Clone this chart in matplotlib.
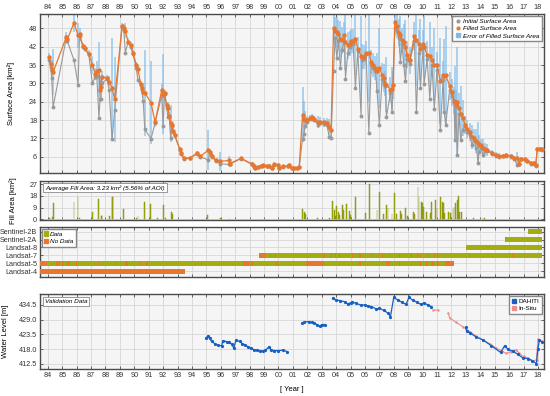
import numpy as np
import matplotlib
matplotlib.use('Agg')
from matplotlib import pyplot as plt
from matplotlib.lines import Line2D
from matplotlib.patches import Patch

plt.rcParams['font.family'] = ['Liberation Sans', 'DejaVu Sans']

# surface area time series (decimal years, km^2)
area_year = [1984.07, 1984.20, 1984.27, 1984.37, 1985.29, 1985.35, 1985.82, 1986.10,
             1986.20, 1986.45, 1986.55, 1986.84, 1987.09, 1987.30, 1987.40, 1987.55,
             1987.62, 1987.67, 1987.75, 1988.10, 1988.25, 1988.46, 1988.64, 1989.15,
             1989.27, 1989.38, 1989.56, 1989.75, 1989.91, 1990.14, 1990.25, 1990.44,
             1990.51, 1990.62, 1990.73, 1991.16, 1991.44, 1991.90, 1992.00, 1992.10,
             1992.25, 1992.33, 1992.43, 1992.52, 1992.59, 1992.70, 1992.80, 1993.17,
             1993.24, 1993.47, 1993.86, 1994.37, 1994.55, 1995.13, 1995.25, 1995.40,
             1995.66, 1995.95, 1996.58, 1996.63, 1997.40, 1998.16, 1998.30, 1998.39,
             1998.60, 1998.80, 1998.96, 1999.20, 1999.35, 1999.54, 1999.66, 1999.96,
             2000.05, 2000.35, 2000.63, 2000.75, 2000.93, 2001.10, 2001.26, 2001.44,
             2001.67, 2001.77, 2001.85, 2001.95, 2002.20, 2002.36, 2002.50, 2002.73,
             2002.90, 2003.13, 2003.36, 2003.52, 2003.65, 2003.82, 2003.93, 2004.05,
             2004.16, 2004.30, 2004.40, 2004.57, 2004.65, 2004.81, 2004.95, 2005.04,
             2005.18, 2005.34, 2005.50, 2005.73, 2005.80, 2005.92, 2006.08, 2006.27,
             2006.43, 2006.58, 2006.73, 2006.84, 2007.00, 2007.19, 2007.30, 2007.42,
             2007.49, 2007.77, 2007.88, 2007.95, 2008.07, 2008.23, 2008.35, 2008.46,
             2008.57, 2008.69, 2008.81, 2008.92, 2009.10, 2009.43, 2009.57, 2009.73,
             2009.85, 2010.03, 2010.10, 2010.31, 2010.50, 2010.65, 2010.81, 2011.00,
             2011.23, 2011.42, 2011.50, 2011.60, 2011.88, 2012.02, 2012.18, 2012.25,
             2012.30, 2012.41, 2012.52, 2012.64, 2012.78, 2012.94, 2013.10, 2013.27,
             2013.41, 2013.57, 2013.73, 2013.85, 2013.92, 2014.04, 2014.19, 2014.33,
             2014.49, 2014.84, 2015.07, 2015.30, 2015.58, 2015.81, 2016.11, 2016.34,
             2016.57, 2016.70, 2016.80, 2017.10, 2017.27, 2017.50, 2017.73, 2017.84,
             2017.96, 2018.14, 2018.30]
area_filled = [38.6, 36.2, 34.5, 33.7, 45.2, 44.4, 49.8, 45.7,
               46.0, 42.2, 41.5, 39.7, 36.1, 33.0, 34.2, 34.5,
               28.0, 28.8, 32.1, 31.8, 30.4, 28.5, 24.8, 48.7,
               48.0, 47.3, 43.7, 42.4, 40.0, 36.1, 34.6, 29.9,
               28.5, 27.2, 26.9, 23.7, 17.3, 27.7, 26.5, 26.8,
               22.8, 22.0, 19.5, 17.0, 16.3, 14.4, 13.2, 8.4,
               7.2, 5.6, 5.6, 7.3, 6.1, 8.1, 7.6, 6.4,
               4.8, 4.5, 4.8, 3.8, 5.5, 3.7, 3.0, 2.3,
               2.6, 3.0, 3.2, 3.0, 3.0, 2.3, 3.5, 3.4,
               2.3, 2.9, 3.0, 3.4, 2.3, 2.3, 2.3, 2.6,
               19.7, 18.2, 18.0, 17.9, 18.7, 19.0, 18.5, 17.3,
               17.5, 17.3, 17.1, 15.7, 14.6, 48.1, 47.3, 46.8,
               46.2, 44.5, 44.1, 45.7, 43.5, 42.4, 43.0, 43.8,
               43.8, 44.6, 41.3, 39.0, 38.8, 38.6, 40.0, 40.0,
               37.0, 36.1, 35.0, 33.9, 35.0, 32.8, 31.7, 29.9,
               29.5, 28.0, 28.3, 29.5, 50.1, 48.7, 46.6, 45.9,
               44.1, 43.4, 41.9, 39.4, 37.5, 45.5, 44.1, 43.0,
               41.1, 43.0, 42.0, 39.4, 39.0, 37.5, 36.1, 35.9,
               30.7, 32.7, 32.5, 32.8, 29.1, 27.1, 24.4, 23.8,
               23.3, 23.8, 22.0, 20.1, 18.7, 16.5, 15.0, 14.1,
               12.5, 12.2, 11.1, 10.5, 10.0, 9.8, 8.9, 8.5,
               8.2, 7.3, 6.6, 6.2, 6.4, 6.6, 6.2, 5.6,
               5.6, 3.7, 5.4, 5.3, 4.7, 4.0, 4.0, 3.2,
               8.6, 8.6, 8.4]
area_initial = [37.8, 35.5, 31.8, 22.3, 45.0, 44.0, 37.5, 29.6,
                45.5, 41.8, 41.2, 39.5, 30.2, 32.0, 32.5, 18.7,
                24.8, 25.0, 30.0, 31.5, 28.0, 11.7, 21.2, 48.5,
                47.5, 40.0, 43.5, 42.0, 39.5, 35.0, 31.0, 29.5,
                28.0, 24.1, 15.0, 11.9, 17.0, 26.0, 16.0, 26.5,
                22.0, 19.0, 19.0, 12.1, 16.0, 14.2, 13.0, 8.2,
                7.0, 5.4, 5.5, 7.0, 6.0, 5.0, 7.0, 6.0,
                4.6, 3.7, 3.5, 3.6, 5.4, 3.5, 2.8, 2.2,
                2.5, 2.9, 3.1, 2.9, 2.9, 2.2, 3.4, 3.3,
                2.2, 2.8, 2.9, 3.3, 2.2, 2.2, 2.2, 2.5,
                11.9, 13.5, 16.0, 17.5, 18.2, 18.5, 18.0, 16.5,
                17.0, 16.8, 16.5, 12.5, 12.0, 34.0, 45.0, 38.2,
                44.0, 35.0, 41.0, 44.0, 31.6, 40.0, 42.0, 43.0,
                43.0, 28.5, 40.5, 19.5, 37.5, 38.0, 39.5, 13.8,
                36.0, 35.0, 34.0, 27.4, 16.3, 31.5, 30.5, 29.0,
                19.0, 27.0, 20.6, 29.5, 48.0, 47.0, 45.0, 37.0,
                43.0, 36.0, 30.7, 38.0, 36.5, 44.0, 20.7, 40.0,
                28.5, 42.0, 29.7, 38.0, 25.0, 36.0, 21.7, 34.5,
                14.6, 31.0, 20.6, 16.5, 28.0, 26.0, 24.0, 11.4,
                22.5, 6.5, 20.0, 11.5, 14.9, 16.0, 14.0, 13.0,
                10.0, 11.5, 9.0, 4.0, 7.6, 9.0, 6.5, 8.0,
                7.8, 7.0, 6.3, 6.0, 6.2, 6.4, 6.0, 5.4,
                3.3, 3.5, 5.2, 5.1, 4.5, 3.8, 3.8, 3.0,
                8.4, 8.4, 8.2]
area_err = [1.5, 1.5, 3.0, 7.5, 1.5, 1.5, 3.0, 4.0,
            2.0, 1.0, 1.0, 1.2, 3.0, 2.0, 3.0, 9.0,
            4.0, 4.0, 2.0, 1.0, 2.0, 16.5, 14.0, 1.0,
            1.5, 2.5, 1.0, 1.0, 1.0, 1.0, 1.5, 1.0,
            1.0, 2.0, 14.0, 13.5, 1.5, 2.0, 13.0, 1.0,
            1.0, 2.0, 1.0, 6.0, 1.0, 1.0, 1.0, 0.5,
            0.5, 0.4, 0.4, 0.5, 0.5, 6.5, 1.0, 1.0,
            0.5, 3.0, 1.5, 1.0, 0.3, 0.5, 0.5, 0.3,
            0.3, 0.3, 0.3, 0.3, 0.3, 0.3, 0.3, 0.3,
            0.3, 0.3, 0.3, 0.3, 0.3, 0.3, 0.3, 0.3,
            9.0, 6.0, 3.0, 1.5, 1.0, 1.0, 1.0, 2.0,
            1.5, 1.5, 1.5, 2.5, 2.0, 4.5, 4.5, 5.0,
            4.5, 6.0, 4.5, 4.5, 9.0, 4.5, 4.0, 4.0,
            4.0, 12.0, 4.0, 13.0, 4.0, 4.0, 4.0, 16.0,
            4.0, 4.0, 4.0, 6.0, 13.0, 4.0, 4.5, 4.0,
            9.0, 4.0, 7.0, 4.5, 4.5, 4.0, 4.5, 6.0,
            4.0, 6.0, 9.0, 4.5, 4.5, 4.5, 15.0, 4.5,
            10.0, 4.5, 10.0, 4.5, 11.0, 4.5, 12.0, 4.5,
            14.0, 4.5, 12.0, 16.0, 4.5, 4.5, 4.5, 12.0,
            4.5, 18.0, 5.0, 9.0, 6.0, 3.0, 3.0, 3.0,
            4.0, 3.0, 4.0, 7.0, 3.0, 2.0, 3.0, 2.0,
            2.0, 1.0, 1.0, 1.0, 0.6, 0.6, 0.6, 0.6,
            2.0, 1.0, 0.6, 0.6, 0.6, 0.6, 0.6, 0.5,
            0.6, 0.6, 0.6]

# filled area per scene
fill_year = [1984.10, 1984.35, 1984.42, 1985.82, 1986.10, 1986.20, 1987.12, 1987.53,
             1987.70, 1987.76, 1988.27, 1988.46, 1988.50, 1989.27, 1990.14, 1990.26,
             1990.72, 1991.14, 1991.60, 1992.04, 1992.14, 1992.57, 1992.64, 1995.09,
             1995.96, 1996.60, 2001.64, 2001.78, 2001.88, 2002.70, 2003.53, 2003.75,
             2003.87, 2003.95, 2004.03, 2004.15, 2004.26, 2004.42, 2004.53, 2004.72,
             2004.90, 2004.98, 2005.37, 2006.06, 2006.29, 2006.84, 2007.03, 2007.26,
             2007.49, 2007.60, 2007.88, 2008.07, 2008.20, 2008.44, 2008.55, 2008.83,
             2008.95, 2009.35, 2009.43, 2009.68, 2009.75, 2009.90, 2009.97, 2010.07,
             2010.25, 2010.52, 2010.62, 2010.92, 2011.00, 2011.23, 2011.35, 2011.42,
             2011.50, 2011.82, 2011.92, 2012.11, 2012.18, 2012.27, 2012.41, 2012.50,
             2012.57, 2012.70, 2013.50, 2014.19, 2014.30]
fill_area = [0.8, 2.2, 12.2, 13.0, 16.8, 1.0, 5.8, 15.5,
             3.0, 3.5, 2.6, 17.3, 17.3, 7.6, 1.5, 2.5,
             13.0, 11.7, 1.0, 11.4, 1.5, 5.6, 4.0, 3.3,
             1.0, 0.7, 7.6, 5.8, 4.0, 1.2, 1.5, 14.2,
             7.0, 2.5, 10.2, 5.8, 3.3, 11.4, 7.0, 11.9,
             6.4, 3.5, 16.8, 4.6, 26.7, 7.0, 21.0, 4.0,
             10.9, 9.1, 4.0, 20.3, 4.3, 6.1, 4.5, 8.6,
             2.5, 5.5, 4.5, 24.4, 17.0, 13.0, 12.3, 9.8,
             5.6, 4.8, 13.5, 14.7, 9.0, 16.8, 13.0, 12.3,
             4.6, 5.8, 4.8, 7.6, 9.8, 12.7, 15.2, 18.0,
             5.6, 5.6, 1.0, 1.5, 1.2]

# sensor availability
sensor_names = ['Landsat-4', 'Landsat-5', 'Landsat-7', 'Landsat-8', 'Sentinel-2A', 'Sentinel-2B']
sensor_start = [1983.45, 1983.45, 1998.62, 2013.01, 2015.71, 2017.29]
sensor_end = [1993.54, 2012.16, 2018.26, 2018.26, 2018.26, 2018.26]
l4_nodata = [(1983.45, 1993.54)]
l5_nodata = [(1983.45, 1983.83), (1983.90, 1983.96), (1984.33, 1984.38), (1984.60, 1984.83),
             (1985.00, 1985.13), (1985.36, 1985.52), (1985.94, 1986.05), (1987.50, 1987.56),
             (1988.66, 1988.72), (1989.38, 1989.56), (1990.38, 1990.49), (1990.83, 1990.95),
             (1994.66, 1994.72), (1997.53, 1998.00), (1998.11, 1998.23), (1999.84, 2000.00),
             (2001.92, 2003.15), (2005.62, 2005.73), (2007.47, 2007.77), (2008.36, 2008.42),
             (2009.78, 2009.89), (2010.24, 2010.36), (2010.58, 2010.82), (2011.00, 2011.17),
             (2011.55, 2012.16)]
l7_nodata = [(1998.62, 1999.15), (1999.35, 1999.41), (1999.74, 1999.80), (2003.08, 2003.24),
             (2003.62, 2003.68), (2003.93, 2003.99), (2004.21, 2004.27), (2005.13, 2005.19),
             (2005.62, 2005.73), (2006.40, 2006.46), (2007.16, 2007.22), (2007.67, 2007.73),
             (2008.36, 2008.42), (2009.17, 2009.23), (2009.63, 2009.69), (2009.82, 2009.88),
             (2010.33, 2010.39), (2010.79, 2010.85), (2011.02, 2011.08), (2011.94, 2012.00),
             (2013.21, 2013.27), (2016.22, 2016.28), (2017.14, 2017.20)]
l8_nodata = []
s2a_nodata = [(2015.71, 2015.80)]
s2b_nodata = []

# water level validation
dahiti_year = [1994.97, 1995.10, 1995.22, 1995.36, 1995.60, 1995.83, 1996.06, 1996.15,
               1996.40, 1996.60, 1996.75, 1996.90, 1997.05, 1997.30, 1997.50, 1997.70,
               1997.90, 1998.10, 1998.30, 1998.50, 1998.70, 1998.90, 1999.10, 1999.36,
               1999.50, 1999.70, 2000.00, 2000.30, 2000.60, np.nan,
               2001.64, 2001.80, 2002.13, 2002.30, 2002.50, 2002.70, 2002.85, 2003.00,
               2003.20, np.nan,
               2003.75, 2004.00, 2004.30, 2004.60, 2004.80, 2005.00, 2005.10, 2005.40,
               2005.70, 2006.00, 2006.20, 2006.45, 2006.80, 2007.00, 2007.30, 2007.60,
               2007.77, 2008.00, 2008.30, 2008.60, 2008.85, 2009.05, 2009.30, 2009.60,
               2009.90, 2010.10, 2010.40, 2010.61, np.nan,
               2012.99, 2013.05, 2013.30, 2013.70, 2014.20, 2014.77, 2015.41, 2015.69,
               2015.93, 2016.25, 2016.60, 2016.94, 2017.28, 2017.62, 2017.89, 2018.00,
               2018.10, 2018.25]
dahiti_level = [422.1, 423.0, 422.1, 420.9, 420.0, 419.4, 419.3, 421.2,
                420.8, 420.5, 419.9, 418.5, 421.3, 421.0, 420.0, 419.6,
                418.8, 418.3, 417.8, 417.6, 417.5, 417.2, 417.6, 419.0,
                417.6, 417.5, 417.5, 417.6, 417.1, np.nan,
                427.7, 428.2, 428.3, 428.0, 427.7, 427.1, 426.5, 427.2,
                427.2, np.nan,
                437.0, 436.4, 436.1, 435.7, 434.9, 435.3, 435.6, 435.1,
                434.5, 434.5, 434.2, 433.9, 433.0, 433.3, 432.5, 431.5,
                430.2, 437.4, 436.2, 435.5, 434.7, 437.3, 436.4, 435.5,
                434.7, 435.3, 434.4, 433.9, np.nan,
                426.1, 424.7, 424.0, 422.6, 421.4, 419.3, 416.8, 419.3,
                417.9, 417.3, 416.1, 414.8, 414.5, 413.7, 412.6, 418.2,
                421.4, 420.8]
insitu_year = [2010.72, 2011.10, np.nan, 2011.76, 2011.90, 2012.30, 2012.80, 2013.27,
               2013.70, 2014.19, 2014.65, 2015.11, 2015.50, 2015.80, 2016.10, 2016.50,
               2016.70, 2017.00, 2017.33, 2017.67, 2017.90, 2018.00, 2018.10, 2018.25]
insitu_level = [432.6, 432.6, np.nan, 431.4, 429.6, 428.1, 426.4, 424.6,
                422.9, 421.5, 420.0, 418.4, 417.3, 416.4, 417.0, 417.8,
                416.4, 415.3, 414.6, 413.5, 414.1, 421.8, 421.5, 421.0]

years = np.arange(1984, 2019)
year_labels = ['%02d' % (y % 100) for y in years]

c_gray = '#9a9a9a'
c_orange = '#e8772e'
c_blue = '#7dbbec'
c_green = '#a3ad10'
c_face = '#f5f5f5'
tick_fs = 5.2
lab_fs = 5.5

fig = plt.figure(figsize=(5.5, 3.96), dpi=100)
W = 550.0
H = 396.0
left = 40 / W
width = 504 / W


def make_ax(top, bottom):
    return fig.add_axes([left, 1 - bottom / H, width, (bottom - top) / H])


def style(ax):
    ax.set_facecolor(c_face)
    ax.set_xlim(1983.46, 2018.42)
    ax.set_xticks(years)
    ax.grid(True, color='#d6d6d6', linewidth=0.6)
    ax.set_axisbelow(True)
    for s in ax.spines.values():
        s.set_color('#4a4a4a')
        s.set_linewidth(1.0)
    ax.tick_params(direction='in', length=2.5, width=0.5, colors='#333333',
                   labelsize=tick_fs, top=True, right=True, pad=2)


ax1 = make_ax(14, 173)
ax2 = make_ax(181, 220)
ax3 = make_ax(227, 277)
ax4 = make_ax(294, 369)
for ax in (ax1, ax2, ax3, ax4):
    style(ax)

# --- surface area
ax1.errorbar(area_year, area_filled, yerr=area_err, fmt='none', ecolor=c_blue,
             elinewidth=1.1, alpha=0.8, capsize=0, zorder=2)
ax1.plot(area_year, area_initial, '-o', color=c_gray, lw=0.8, ms=1.8, zorder=3)
ax1.plot(area_year, area_filled, '-o', color=c_orange, lw=0.9, ms=2.2, zorder=4)
ax1.set_ylim(0.7, 52.7)
ax1.set_yticks([6, 12, 18, 24, 30, 36, 42, 48])
ax1.tick_params(labeltop=True, labelbottom=False)
ax1.set_xticklabels(year_labels)
ax1.set_ylabel('Surface Area [km²]', fontsize=lab_fs)
ax1.yaxis.set_label_coords(-0.05, 0.5)
h1 = [Line2D([], [], ls='none', marker='o', ms=2, color=c_gray),
      Line2D([], [], ls='none', marker='o', ms=2, color=c_orange),
      Line2D([], [], ls='none', marker='s', ms=2.5, color=c_blue)]
ax1.legend(h1, ['Initial Surface Area', 'Filled Surface Area', 'Error of Filled Surface Area'],
           loc='upper right', prop={'size': 4.6, 'style': 'italic'}, fancybox=False,
           edgecolor='#888888', framealpha=1, borderpad=0.4, labelspacing=0.3,
           handletextpad=0.3, handlelength=1.0, borderaxespad=0.3)

# --- fill area
ax2.bar(fill_year, fill_area, width=0.06, color=c_green, edgecolor='#7f8a0a', linewidth=0.3, zorder=3)
ax2.set_ylim(-0.4, 29.3)
ax2.set_yticks([0, 9, 18, 27])
ax2.tick_params(labelbottom=False)
ax2.set_ylabel('Fill Area [km²]', fontsize=lab_fs)
ax2.yaxis.set_label_coords(-0.045, 0.5)
ax2.text(0.01, 0.9, 'Average Fill Area: 3.23 km² (5.56% of AOI)', transform=ax2.transAxes,
         fontsize=4.6, style='italic', va='top', ha='left',
         bbox=dict(boxstyle='square,pad=0.3', fc='white', ec='#888888', lw=0.6))

# --- sensors
gaps = [l4_nodata, l5_nodata, l7_nodata, l8_nodata, s2a_nodata, s2b_nodata]
rows = np.arange(1, len(sensor_names) + 1)
ax3.barh(rows, np.array(sensor_end) - np.array(sensor_start), left=sensor_start,
         height=0.65, color=c_green, zorder=3)
for r, g in zip(rows, gaps):
    if g:
        st = [a for a, b in g]
        wd = [b - a for a, b in g]
        ax3.barh([r] * len(g), wd, left=st, height=0.65, color=c_orange, zorder=4)
ax3.set_ylim(0.25, 6.6)
ax3.set_yticks(rows)
ax3.set_yticklabels(sensor_names)
ax3.tick_params(labelbottom=False)
h3 = [Patch(color=c_green), Patch(color=c_orange)]
ax3.legend(h3, ['Data', 'No Data'], loc='upper left', prop={'size': 4.6, 'style': 'italic'},
           fancybox=False, edgecolor='#888888', framealpha=1, borderpad=0.4,
           labelspacing=0.3, handletextpad=0.3, handlelength=0.6, handleheight=0.6,
           borderaxespad=0.3)

# --- water level
ax4.plot(insitu_year, insitu_level, '-+', color='#f28b8b', lw=0.8, ms=2, zorder=3)
ax4.plot(dahiti_year, dahiti_level, '-o', color='#1560c2', lw=0.9, ms=1.3, zorder=4)
ax4.set_ylim(410.6, 438.6)
ax4.set_yticks([412.5, 418.0, 423.5, 429.0, 434.5])
ax4.set_yticklabels(['412.5', '418.0', '423.5', '429.0', '434.5'])
ax4.set_xticklabels(year_labels)
ax4.set_ylabel('Water Level [m]', fontsize=lab_fs)
ax4.yaxis.set_label_coords(-0.062, 0.5)
ax4.set_xlabel('[ Year ]', fontsize=lab_fs, labelpad=5)
ax4.text(0.01, 0.93, 'Validation Data', transform=ax4.transAxes, fontsize=4.6,
         style='italic', va='top', ha='left',
         bbox=dict(boxstyle='square,pad=0.3', fc='white', ec='#888888', lw=0.6))
h4 = [Line2D([], [], ls='none', marker='s', ms=2.5, color='#1560c2'),
      Line2D([], [], ls='none', marker='s', ms=2.5, color='#f28b8b')]
ax4.legend(h4, ['DAHITI', 'In-Situ'], loc='upper right', prop={'size': 4.6},
           fancybox=False, edgecolor='#888888', framealpha=1, borderpad=0.4,
           labelspacing=0.3, handletextpad=0.3, handlelength=0.8, borderaxespad=0.3)

fig.savefig('out.png', dpi=100)
